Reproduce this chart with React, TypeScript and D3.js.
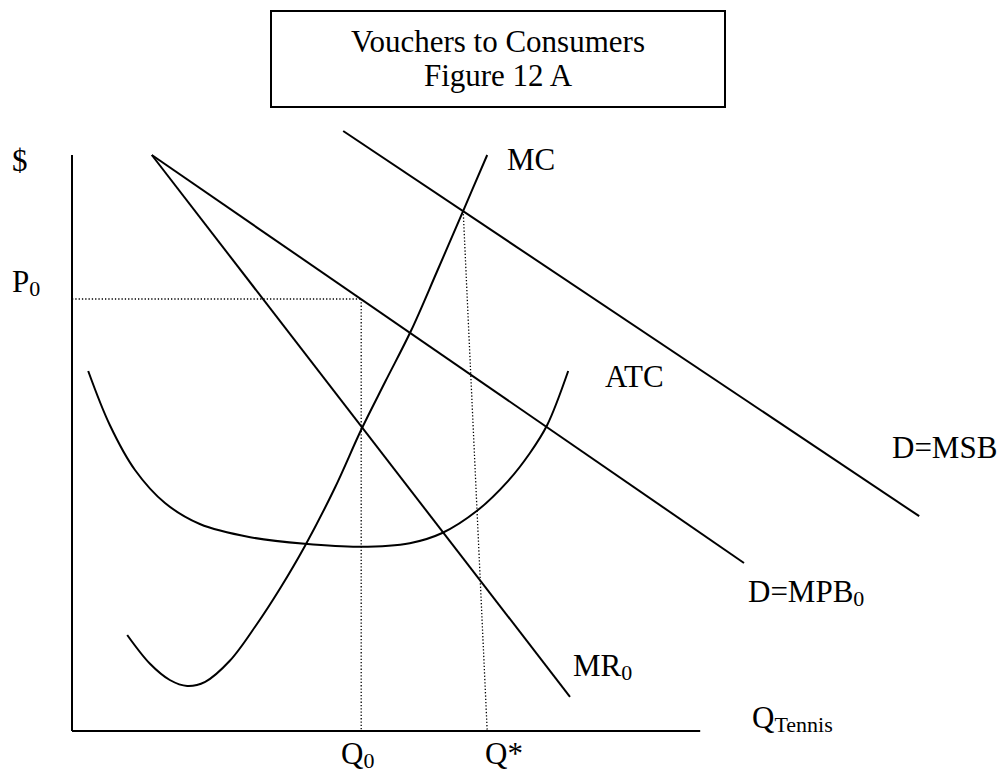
import React from "react";
import * as d3 from "d3";

// Units: quantity on x, price on y (arbitrary units)
const mpbLine: [number, number][] = [[13.3, 96], [112, 28]];
const mrLine: [number, number][] = [[13.3, 96], [83, 5.7]];
const msbLine: [number, number][] = [[45.2, 100], [141.2, 35.8]];
const mcCurve: [number, number][] = [
  [9.2, 16], [13, 11.2], [16.3, 8.5], [19.2, 7.5], [22.2, 8.2], [26.3, 11.7],
  [30.8, 17.8], [34.7, 23.8], [38.8, 30.8], [43.8, 40.5], [48.2, 50.2], [52.2, 58.2],
  [56.5, 66.7], [60.8, 76.5], [65.2, 86.7], [69.2, 96],
];
const atcCurve: [number, number][] = [
  [2.7, 60], [6.3, 51], [10.5, 43.5], [15.5, 38], [21.3, 34.5], [29.7, 32.3],
  [38.8, 31.2], [48, 30.7], [56.3, 31.3], [61.7, 33], [67.5, 36.7], [72.7, 41.7],
  [76.3, 46.3], [79.2, 51], [82.7, 60],
];
const q0 = 48.2;
const p0 = 72;
const qStarTop: [number, number] = [65.2, 86.7];
const qStarBottom = 69.2;

const titleLines = ["Vouchers to Consumers", "Figure 12 A"];

const W = 1005;
const H = 776;
const FONT = "'Liberation Serif', 'Times New Roman', serif";

export default function App() {
  const x = d3.scaleLinear().domain([0, 105]).range([72, 702]);
  const y = d3.scaleLinear().domain([0, 96]).range([731, 155]);
  const line = d3.line<[number, number]>().x((d) => x(d[0])).y((d) => y(d[1]));
  const smooth = d3
    .line<[number, number]>()
    .x((d) => x(d[0]))
    .y((d) => y(d[1]))
    .curve(d3.curveCatmullRom.alpha(0.5));

  const fs = 31;
  const sub = 22;
  const solid = { fill: "none", stroke: "#000", strokeWidth: 2 };
  const dotted = { fill: "none", stroke: "#000", strokeWidth: 1.3, strokeDasharray: "1.3,2" };

  const Label = ({ px, py, main, subText }: { px: number; py: number; main: string; subText?: string }) => (
    <text x={px} y={py} fontFamily={FONT} fontSize={fs} fill="#000">
      {main}
      {subText && (
        <tspan fontSize={sub} dy={4}>
          {subText}
        </tspan>
      )}
    </text>
  );

  return (
    <svg
      width={W}
      height={H}
      viewBox={`0 0 ${W} ${H}`}
      style={{ position: "absolute", left: 0, top: 0, background: "#fff" }}
    >
      {/* Title box */}
      <rect x={271} y={11} width={454} height={96} fill="#fff" stroke="#000" strokeWidth={2} />
      {titleLines.map((t, i) => (
        <text key={t} x={498} y={52 + i * 34} textAnchor="middle" fontFamily={FONT} fontSize={fs} fill="#000">
          {t}
        </text>
      ))}

      {/* Axes */}
      <line x1={x(0)} y1={y(96)} x2={x(0)} y2={y(0)} stroke="#000" strokeWidth={2} />
      <line x1={x(0)} y1={y(0)} x2={x(104.7)} y2={y(0)} stroke="#000" strokeWidth={2} />

      {/* Dotted guides */}
      <line x1={x(0)} y1={y(p0)} x2={x(q0)} y2={y(p0)} {...dotted} />
      <line x1={x(q0)} y1={y(p0)} x2={x(q0)} y2={y(0)} {...dotted} />
      <line x1={x(qStarTop[0])} y1={y(qStarTop[1])} x2={x(qStarBottom)} y2={y(0)} {...dotted} />

      {/* Curves */}
      <path d={line(msbLine) || ""} {...solid} />
      <path d={line(mpbLine) || ""} {...solid} />
      <path d={line(mrLine) || ""} {...solid} />
      <path d={smooth(mcCurve) || ""} {...solid} />
      <path d={smooth(atcCurve) || ""} {...solid} />

      {/* Labels */}
      <Label px={12} py={171} main="$" />
      <Label px={12} py={292} main="P" subText="0" />
      <Label px={507} py={170} main="MC" />
      <Label px={605} py={387} main="ATC" />
      <Label px={892} py={458} main="D=MSB" />
      <Label px={748} py={602} main="D=MPB" subText="0" />
      <Label px={573} py={676} main="MR" subText="0" />
      <Label px={752} py={728} main="Q" subText="Tennis" />
      <Label px={341} py={764} main="Q" subText="0" />
      <Label px={485} py={764} main="Q*" />
    </svg>
  );
}
